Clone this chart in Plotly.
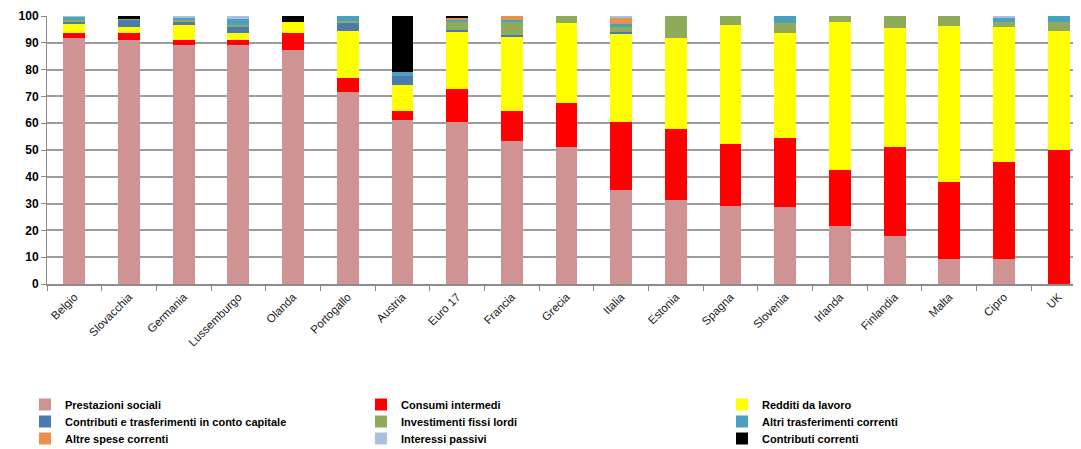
import plotly.graph_objects as go

paesi = ["Belgio", "Slovacchia", "Germania", "Lussemburgo", "Olanda", "Portogallo", "Austria",
         "Euro 17", "Francia", "Grecia", "Italia", "Estonia", "Spagna", "Slovenia", "Irlanda",
         "Finlandia", "Malta", "Cipro", "UK"]

prestazioni_sociali = [91.8, 91.0, 89.2, 89.2, 87.3, 71.5, 61.2, 60.6, 53.4, 51.2, 35.1, 31.3, 29.1, 28.6, 21.6, 17.9, 9.2, 9.2, 0.0]
consumi_intermedi = [1.7, 2.5, 1.8, 1.8, 6.2, 5.3, 3.3, 12.0, 11.2, 16.5, 25.2, 26.4, 23.0, 26.0, 20.9, 33.3, 28.7, 36.4, 50.0]
redditi_lavoro = [3.8, 2.5, 5.6, 2.8, 4.4, 17.7, 9.8, 21.5, 27.7, 29.6, 33.2, 34.0, 44.5, 38.9, 55.4, 44.2, 58.4, 50.2, 44.4]
contributi_capitale = [0.5, 2.7, 1.0, 2.3, 0.0, 3.2, 3.5, 0.6, 0.7, 0.0, 0.6, 0.0, 0.0, 0.0, 0.0, 0.0, 0.0, 0.0, 0.0]
investimenti = [0.7, 0.3, 0.8, 0.4, 0.0, 0.5, 0.0, 3.1, 5.0, 2.7, 1.9, 8.3, 3.4, 3.8, 2.1, 4.6, 3.7, 2.1, 3.5]
altri_trasferimenti = [1.2, 0.0, 1.2, 2.5, 0.0, 1.8, 1.2, 0.6, 0.5, 0.0, 1.0, 0.0, 0.0, 2.7, 0.0, 0.0, 0.0, 1.5, 2.1]
altre_spese = [0.0, 0.0, 0.0, 0.0, 0.0, 0.0, 0.0, 1.0, 1.5, 0.0, 2.5, 0.0, 0.0, 0.0, 0.0, 0.0, 0.0, 0.0, 0.0]
interessi_passivi = [0.3, 0.0, 0.4, 1.0, 0.0, 0.0, 0.0, 0.1, 0.0, 0.0, 0.5, 0.0, 0.0, 0.0, 0.0, 0.0, 0.0, 0.6, 0.0]
contributi_correnti = [0.0, 1.0, 0.0, 0.0, 2.1, 0.0, 21.0, 0.5, 0.0, 0.0, 0.0, 0.0, 0.0, 0.0, 0.0, 0.0, 0.0, 0.0, 0.0]

nomi = ["Prestazioni sociali", "Consumi intermedi", "Redditi da lavoro",
        "Contributi e trasferimenti in conto capitale", "Investimenti fissi lordi", "Altri trasferimenti correnti",
        "Altre spese correnti", "Interessi passivi", "Contributi correnti"]
valori = [prestazioni_sociali, consumi_intermedi, redditi_lavoro, contributi_capitale, investimenti,
          altri_trasferimenti, altre_spese, interessi_passivi, contributi_correnti]
colori = ["#D09393", "#FF0000", "#FFFF00", "#4A7AB0", "#8FAA5A", "#4BA0BE", "#E8904E", "#A9C0DE", "#000000"]

# page body has an 8px margin; layout below is in figure coordinates
W, H = 1081, 449
col_x = [17, 353, 714]          # legend left edge per column (figure px)
row_top = [382, 399, 416]       # legend top per row (figure px)

font_leg = dict(family="Liberation Sans, Arial", size=11, color="#000000", weight="bold")

fig = go.Figure()
layout_legends = {}
for i, (name, vals, color) in enumerate(zip(nomi, valori, colori)):
    key = "legend" if i == 0 else f"legend{i + 1}"
    fig.add_trace(go.Bar(x=paesi, y=vals, name=name, marker=dict(color=color, line=dict(width=0)),
                         legend=key, showlegend=True))
    r, c = divmod(i, 3)
    layout_legends[key] = dict(x=col_x[c] / W, y=1 - row_top[r] / H, xref="container", yref="container",
                               xanchor="left", yanchor="top", orientation="v", font=font_leg,
                               bgcolor="rgba(0,0,0,0)", itemwidth=30, visible=True)

fig.update_layout(
    showlegend=True,
    barmode="stack",
    bargap=0.60,
    width=W, height=H,
    margin=dict(l=39, r=3, t=8, b=173, autoexpand=False),
    plot_bgcolor="white", paper_bgcolor="white",
    xaxis=dict(tickangle=-45, tickfont=dict(family="Liberation Sans, Arial", size=11.5, color="#202020"),
               showline=True, linecolor="#8C8C8C", linewidth=1.5, ticks="outside", tickson="boundaries",
               ticklen=5, tickcolor="#8C8C8C"),
    yaxis=dict(range=[0, 100], dtick=10, tickfont=dict(family="Liberation Sans, Arial", size=12, color="#000000", weight="bold"),
               showgrid=True, gridcolor="#9C9C9C", gridwidth=1.5, showline=True, linecolor="#8C8C8C",
               linewidth=1, ticks="outside", ticklen=5, tickcolor="#8C8C8C", zeroline=False),
    **layout_legends,
)

fig.write_html("out.html")
